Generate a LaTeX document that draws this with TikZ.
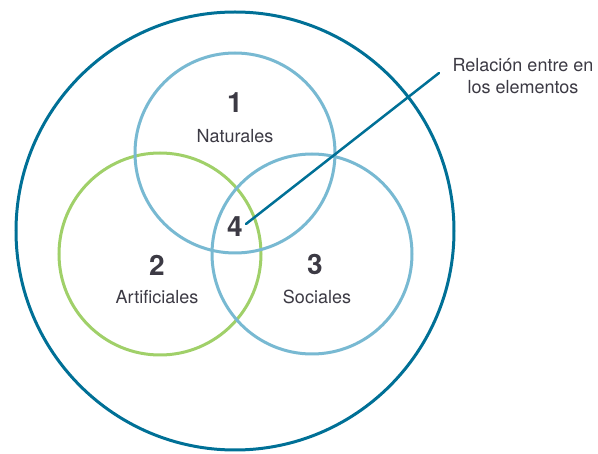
\documentclass[tikz,border=0pt]{standalone}
\usepackage{fontspec}
\setmainfont{TeX Gyre Heros}
\usepackage{xcolor}
\usepackage{tikz}

\definecolor{outerblue}{RGB}{0,112,150}
\definecolor{setblue}{RGB}{120,185,210}
\definecolor{setgreen}{RGB}{160,208,105}
\definecolor{textgray}{RGB}{60,58,68}

\begin{document}
\begin{tikzpicture}[x=1pt,y=-1pt,
    setline/.style={line width=3pt},
    num/.style={font=\fontsize{28}{30}\selectfont\bfseries, text=textgray, inner sep=3pt},
    lbl/.style={font=\fontsize{18}{22}\selectfont, text=textgray}]

\useasboundingbox (0,0) rectangle (598,454);

% --------------------------------------------------
% Outer circle
% --------------------------------------------------
\draw[setline, outerblue] (235,231) circle[radius=219pt];

% --------------------------------------------------
% Three sets
% --------------------------------------------------
\draw[setline, setgreen] (160,254) circle[radius=101pt];
\draw[setline, setblue] (235,153) circle[radius=100pt];
\draw[setline, setblue] (312,254) circle[radius=100pt];

\node[num] (n1) at (235,103) {1};
\node[lbl] (nat) at (235,136) {Naturales};

\node[num] (n2) at (157,265) {2};
\node[lbl] (art) at (157,297) {Artificiales};

\node[num] (n3) at (315,264) {3};
\node[lbl] (soc) at (317,297) {Sociales};

\node[num] (n4) at (235,227) {4};

% --------------------------------------------------
% Pointer to the relation
% --------------------------------------------------
\node[lbl, align=center] (rel) at (523,76) {Relación entre en\\los elementos};
\coordinate (lead) at (439,73);

\draw[outerblue, line width=2.5pt, line cap=round] ([yshift=3pt]n4.east) -- (lead);

\end{tikzpicture}
\end{document}
